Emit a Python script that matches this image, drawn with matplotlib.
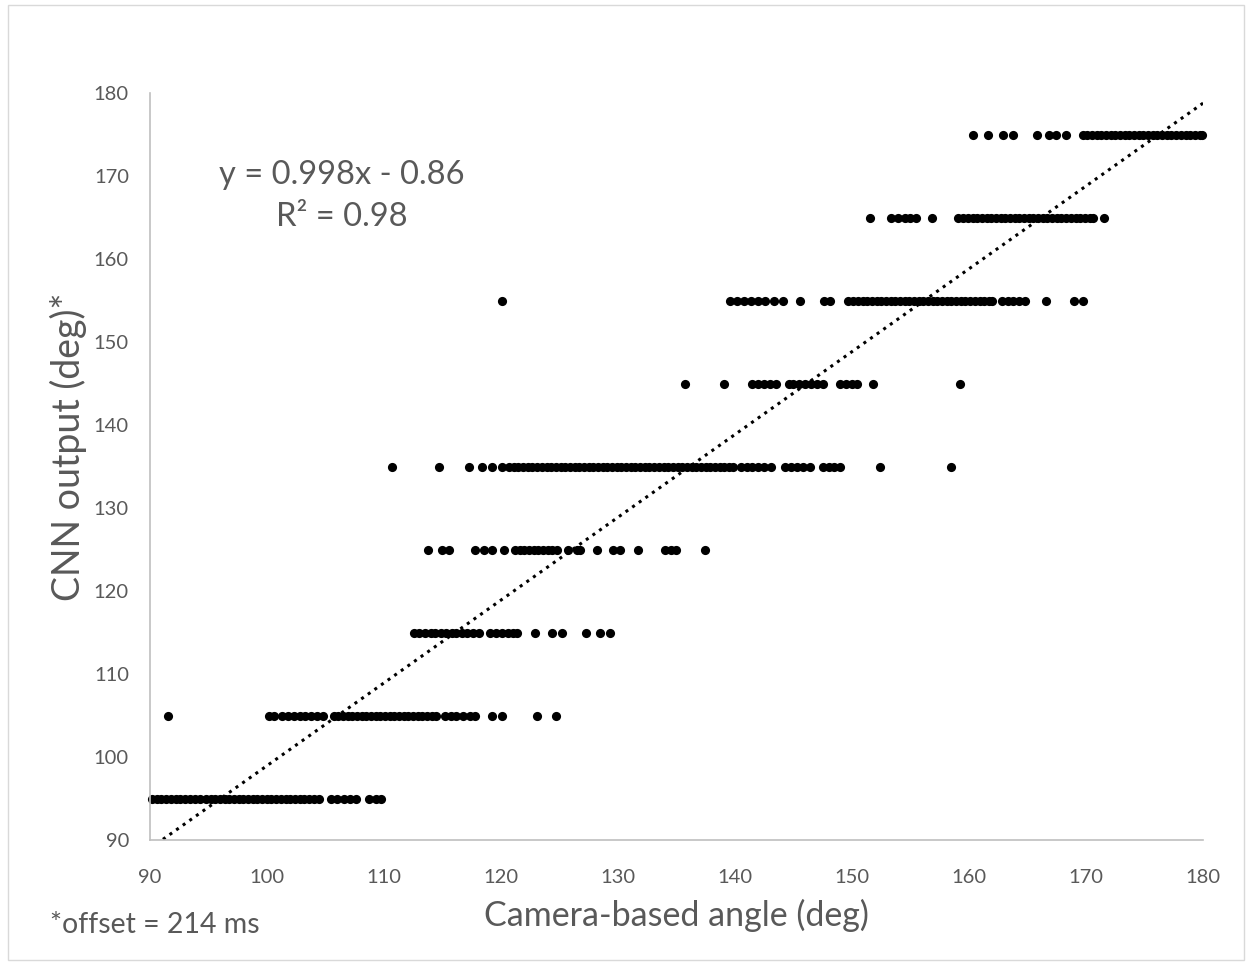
import matplotlib.pyplot as plt
import matplotlib.patches as patches
import numpy as np

plt.rcParams['font.family'] = ['Lato', 'DejaVu Sans']

# CNN output levels (deg) and the camera-based angles at each level
y_levels = [95, 105, 115, 125, 135, 145, 155, 165, 175]

x_95 = [90.2, 90.6, 91.0, 91.4, 91.8, 92.2, 92.6, 93.0, 93.4, 93.9, 94.3, 94.8,
        95.2, 95.6, 96.0, 96.4, 96.8, 97.2, 97.6, 98.0, 98.4, 98.8, 99.2, 99.6,
        100.0, 100.4, 100.8, 101.2, 101.6, 102.0, 102.4, 102.8, 103.2, 103.6,
        104.0, 104.5, 105.5, 106.0, 106.6, 107.1, 107.6, 108.7, 109.3, 109.8]
x_105 = [91.6, 100.2, 100.6, 101.3, 101.8, 102.3, 102.8, 103.3, 103.8, 104.3,
         104.8, 105.7, 106.1, 106.5, 106.9, 107.3, 107.7, 108.1, 108.5, 108.9,
         109.3, 109.7, 110.1, 110.5, 110.9, 111.3, 111.7, 112.1, 112.5, 112.9,
         113.3, 113.7, 114.1, 114.5, 115.2, 115.7, 116.2, 116.8, 117.4, 117.8,
         119.2, 120.1, 123.1, 124.7]
x_115 = [112.6, 113.0, 113.5, 114.0, 114.4, 114.9, 115.3, 115.8, 116.2, 116.7,
         117.1, 117.6, 118.1, 119.1, 119.6, 120.1, 120.6, 121.0, 121.4, 122.9,
         124.4, 125.2, 127.3, 128.5, 129.3]
x_125 = [113.8, 115.0, 115.6, 117.8, 118.6, 119.2, 120.3, 121.2, 121.6, 122.0,
         122.4, 122.8, 123.2, 123.6, 124.0, 124.4, 124.8, 125.7, 126.5, 126.8,
         128.2, 129.6, 130.2, 131.7, 134.0, 134.5, 135.0, 137.4]
x_135 = [110.7, 114.7, 117.3, 118.4, 119.2, 120.1, 120.7, 121.1, 121.5, 121.9,
         122.3, 122.7, 123.1, 123.5, 123.9, 124.3, 124.7, 125.1, 125.5, 125.9,
         126.3, 126.7, 127.1, 127.5, 127.9, 128.3, 128.7, 129.1, 129.5, 129.9,
         130.3, 130.7, 131.1, 131.5, 131.9, 132.3, 132.7, 133.1, 133.5, 133.9,
         134.3, 134.7, 135.1, 135.5, 135.9, 136.3, 136.7, 137.1, 137.5, 137.9,
         138.3, 138.7, 139.1, 139.5, 139.8, 140.5, 141.0, 141.5, 142.0, 142.5,
         143.1, 144.3, 144.8, 145.3, 145.8, 146.4, 147.5, 148.0, 148.5, 149.0,
         152.4, 158.5]
x_145 = [135.7, 139.1, 141.5, 142.0, 142.5, 143.0, 143.5, 144.6, 145.0, 145.5,
         146.0, 146.5, 147.0, 147.5, 149.0, 149.5, 150.0, 150.4, 151.8, 159.2]
x_155 = [120.1, 139.6, 140.2, 140.8, 141.4, 142.0, 142.6, 143.3, 144.1, 145.6,
         147.6, 148.1, 149.7, 150.1, 150.5, 150.9, 151.3, 151.7, 152.1, 152.5,
         152.9, 153.3, 153.7, 154.1, 154.5, 154.9, 155.3, 155.7, 156.1, 156.5,
         156.9, 157.3, 157.7, 158.1, 158.5, 158.9, 159.3, 159.7, 160.1, 160.5,
         160.9, 161.3, 161.7, 162.0, 162.8, 163.3, 163.8, 164.3, 164.8, 166.6,
         169.0, 169.7]
x_165 = [151.5, 153.3, 153.9, 154.5, 155.0, 155.5, 156.8, 159.1, 159.5, 159.9,
         160.3, 160.7, 161.1, 161.5, 161.9, 162.3, 162.7, 163.1, 163.5, 163.9,
         164.3, 164.7, 165.1, 165.5, 165.9, 166.3, 166.7, 167.1, 167.5, 167.9,
         168.3, 168.7, 169.1, 169.5, 169.9, 170.3, 170.6, 171.5]
x_175 = [160.3, 161.6, 162.9, 163.8, 165.8, 166.8, 167.4, 168.3, 169.7, 170.1,
         170.5, 170.9, 171.3, 171.7, 172.1, 172.5, 172.9, 173.3, 173.7, 174.1,
         174.5, 174.9, 175.3, 175.7, 176.1, 176.5, 176.9, 177.3, 177.7, 178.1,
         178.5, 178.9, 179.3, 179.7, 179.9]

rows = [x_95, x_105, x_115, x_125, x_135, x_145, x_155, x_165, x_175]

# trendline from the chart: y = 0.998x - 0.86
slope, intercept = 0.998, -0.86

grey = '#595959'

fig = plt.figure(figsize=(12.48, 9.66), dpi=100)
ax = fig.add_axes([0.120, 0.1304, 0.844, 0.7733])

for yv, xs in zip(y_levels, rows):
    ax.plot(xs, [yv] * len(xs), 'o', color='black', ms=6.6, mew=0, clip_on=False)

tx = np.array([90, 180])
ax.plot(tx, slope * tx + intercept, ':', color='black', lw=2.2)

ax.set_xlim(90, 180)
ax.set_ylim(90, 180)
ax.set_xticks(range(90, 181, 10))
ax.set_yticks(range(90, 181, 10))
ax.tick_params(length=0, labelsize=14.5, labelcolor=grey)
ax.tick_params(axis='x', pad=21)
ax.tick_params(axis='y', pad=15)
for s in ['top', 'right']:
    ax.spines[s].set_visible(False)
for s in ['left', 'bottom']:
    ax.spines[s].set_color('#bfbfbf')
    ax.spines[s].set_linewidth(1.2)

# equation text
fig.text(342 / 1248, 1 - 175 / 966, 'y = 0.998x - 0.86', ha='center', va='center',
         fontsize=23.5, color=grey)
fig.text(342 / 1248, 1 - 217 / 966, 'R² = 0.98', ha='center', va='center',
         fontsize=23.5, color=grey)

# axis labels and footnote
fig.text(68 / 1248, 1 - 447 / 966, 'CNN output (deg)*', rotation=90, ha='center',
         va='center', fontsize=27, color=grey)
fig.text(676 / 1248, 1 - 915 / 966, 'Camera-based angle (deg)', ha='center',
         va='center', fontsize=24.5, color=grey)
fig.text(50 / 1248, 1 - 925 / 966, '*offset = 214 ms', ha='left', va='center',
         fontsize=20.5, color=grey)

# chart border
fig.patches.append(patches.Rectangle((8 / 1248, 6 / 966), 1236 / 1248, 955 / 966,
                                     transform=fig.transFigure, fill=False,
                                     edgecolor='#d9d9d9', lw=1))

fig.savefig('out.png', dpi=100)
